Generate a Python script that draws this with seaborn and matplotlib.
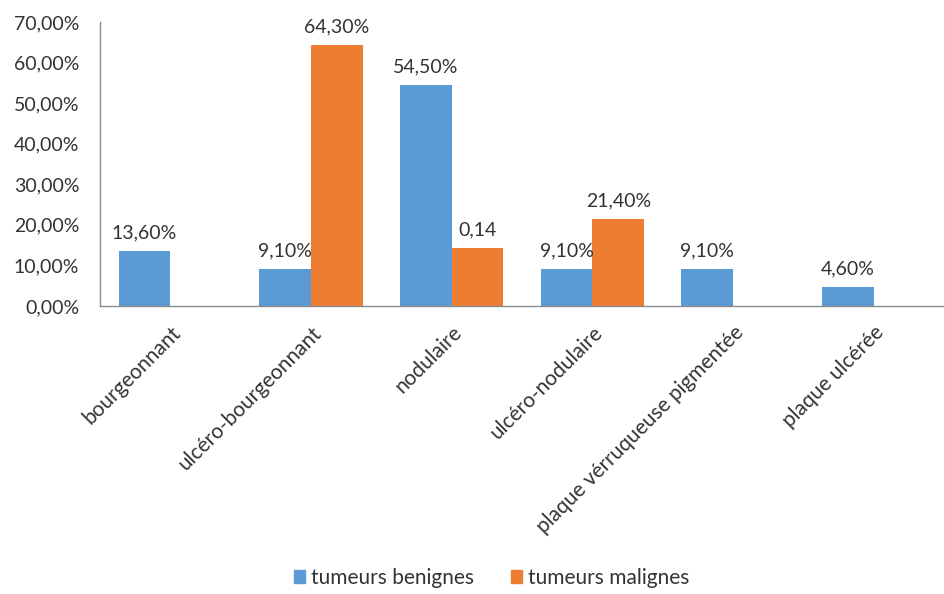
import matplotlib
matplotlib.use("Agg")
import matplotlib.pyplot as plt
import seaborn as sns
import pandas as pd
import numpy as np

categories = ["bourgeonnant", "ulcéro-bourgeonnant", "nodulaire", "ulcéro-nodulaire",
              "plaque vérruqueuse pigmentée", "plaque ulcérée"]
benignes = [13.6, 9.1, 54.5, 9.1, 9.1, 4.6]
malignes = [0.0, 64.3, 14.3, 21.4, 0.0, 0.0]
labels_benignes = ["13,60%", "9,10%", "54,50%", "9,10%", "9,10%", "4,60%"]
labels_malignes = ["", "64,30%", "0,14", "21,40%", "", ""]
series = ["tumeurs benignes", "tumeurs malignes"]
yticks = [0, 10, 20, 30, 40, 50, 60, 70]
ytick_labels = ["0,00%", "10,00%", "20,00%", "30,00%", "40,00%", "50,00%", "60,00%", "70,00%"]

df = pd.DataFrame({
    "cat": categories * 2,
    "val": benignes + malignes,
    "serie": [series[0]] * len(categories) + [series[1]] * len(categories),
})

sns.set_style("white")
plt.rcParams["font.family"] = ["Lato", "DejaVu Sans"]
txt = "#333333"

fig = plt.figure(figsize=(9.44, 5.94), dpi=100)
ax = fig.add_axes([0.106, 0.485, 0.894, 0.478])
sns.barplot(data=df, x="cat", y="val", hue="serie", order=categories, hue_order=series,
            palette=["#5B9BD5", "#ED7D31"], width=0.735, errorbar=None, ax=ax,
            linewidth=0, saturation=1)

for cont, labs in zip(ax.containers, [labels_benignes, labels_malignes]):
    ax.bar_label(cont, labels=labs, padding=7, fontsize=14, color=txt)

ax.set_ylim(0, 70)
ax.set_xlim(-0.5, len(categories) - 0.5)
ax.set_yticks(yticks)
ax.set_yticklabels(ytick_labels, fontsize=14, color=txt)
ax.set_xticks(range(len(categories)))
ax.set_xticklabels(categories, rotation=45, ha="right", rotation_mode="anchor",
                   fontsize=15, color=txt)
ax.tick_params(axis="x", length=0, pad=12)
ax.tick_params(axis="y", length=0, pad=15)
ax.set_xlabel("")
ax.set_ylabel("")
for s in ["top", "right"]:
    ax.spines[s].set_visible(False)
for s in ["left", "bottom"]:
    ax.spines[s].set_color("#8c8c8c")
    ax.spines[s].set_linewidth(1)

ax.legend_.remove()
handles = [plt.Rectangle((0, 0), 1, 1, color=c) for c in ["#5B9BD5", "#ED7D31"]]
fig.legend(handles, series, loc="center", bbox_to_anchor=(0.521, 0.027), ncol=2,
           frameon=False, fontsize=15, handlelength=0.5, handleheight=0.6,
           handletextpad=0.3, columnspacing=1.8, labelcolor=txt)

fig.savefig("out.png", dpi=100, facecolor="white")
